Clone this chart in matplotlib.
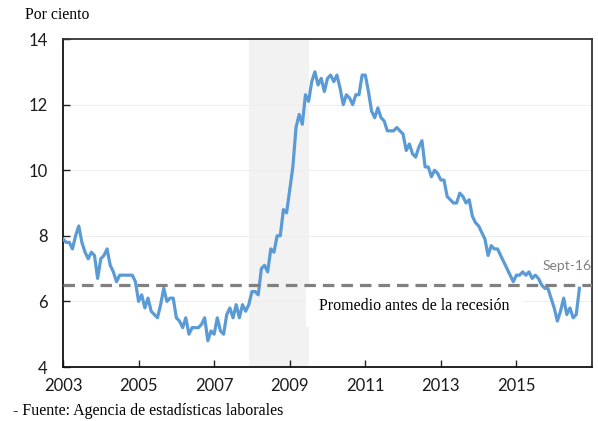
import matplotlib
matplotlib.use("Agg")
import matplotlib.pyplot as plt
import numpy as np

start_year = 2003
rate = [
    7.9, 7.8, 7.8, 7.6, 8.0, 8.3, 7.8, 7.5, 7.3, 7.5, 7.4, 6.7,   # 2003
    7.3, 7.4, 7.6, 7.1, 6.9, 6.6, 6.8, 6.8, 6.8, 6.8, 6.8, 6.6,   # 2004
    6.0, 6.2, 5.8, 6.1, 5.7, 5.6, 5.5, 5.9, 6.4, 6.0, 6.1, 6.1,   # 2005
    5.5, 5.4, 5.2, 5.5, 5.0, 5.2, 5.2, 5.2, 5.3, 5.5, 4.8, 5.1,   # 2006
    5.0, 5.5, 5.1, 5.0, 5.6, 5.8, 5.5, 5.9, 5.5, 5.9, 5.7, 5.9,   # 2007
    6.3, 6.3, 6.2, 7.0, 7.1, 6.9, 7.6, 7.5, 8.0, 8.0, 8.8, 8.7,   # 2008
    9.4, 10.1, 11.3, 11.7, 11.4, 12.3, 12.1, 12.7, 13.0, 12.6, 12.8, 12.4,  # 2009
    12.8, 12.9, 12.7, 12.9, 12.5, 12.0, 12.3, 12.2, 12.0, 12.3, 12.3, 12.9,  # 2010
    12.9, 12.4, 11.8, 11.6, 11.9, 11.6, 11.5, 11.2, 11.2, 11.2, 11.3, 11.2,  # 2011
    11.1, 10.6, 10.8, 10.5, 10.4, 10.7, 10.9, 10.1, 10.1, 9.8, 10.0, 9.9,    # 2012
    9.7, 9.7, 9.2, 9.1, 9.0, 9.0, 9.3, 9.2, 9.0, 9.1, 8.6, 8.4,   # 2013
    8.3, 8.1, 7.9, 7.4, 7.7, 7.6, 7.6, 7.4, 7.2, 7.0, 6.8, 6.6,   # 2014
    6.8, 6.8, 6.9, 6.8, 6.9, 6.7, 6.8, 6.7, 6.5, 6.4, 6.4, 6.1,   # 2015
    5.8, 5.4, 5.7, 6.1, 5.6, 5.8, 5.5, 5.6, 6.4,                  # 2016 (Jan-Sep)
]
pre_recession_avg = 6.5
recession_start = 2007 + 11 / 12
recession_end = 2009.5
x_ticks = [2003, 2005, 2007, 2009, 2011, 2013, 2015]
y_ticks = [4, 6, 8, 10, 12, 14]

dates = start_year + np.arange(len(rate)) / 12.0

fig = plt.figure(figsize=(5.98, 4.21), dpi=100)
ax = fig.add_axes([63 / 598, 54 / 421, (592 - 63) / 598, (367 - 39) / 421])

ax.axvspan(recession_start, recession_end, color="#f2f2f2", zorder=0, lw=0)
for yv in y_ticks[1:-1]:
    ax.axhline(yv, color="#eeeeee", lw=0.8, zorder=0.5)

ax.plot(dates, rate, color="#5b9bd5", lw=2.3, zorder=3, solid_joinstyle="round")
ax.axhline(pre_recession_avg, color="#808080", lw=2.3, ls=(0, (3.6, 2.2)), zorder=4)

ax.text(2009.78, 5.86, "Promedio antes de la recesión", fontsize=11.5,
        family="Liberation Serif", va="center", ha="left", zorder=2,
        bbox=dict(facecolor="white", edgecolor="none", pad=9.5))
ax.text(2016.98, 7.08, "Sept-16", fontsize=10, family="Lato", color="#808080",
        ha="right", va="center", zorder=5)

ax.set_xlim(2003, 2017)
ax.set_ylim(4, 14)
ax.set_xticks(x_ticks)
ax.set_yticks(y_ticks)
ax.tick_params(direction="in", length=5, width=1, color="#222222",
               labelsize=12, labelcolor="#1a1a1a")
ax.tick_params(axis="y", pad=11)
ax.tick_params(axis="x", pad=8)
for lab in ax.get_xticklabels() + ax.get_yticklabels():
    lab.set_family("Lato")

for s in ["left", "bottom"]:
    ax.spines[s].set_color("#111111")
    ax.spines[s].set_linewidth(1.3)
for s in ["top", "right"]:
    ax.spines[s].set_color("#333333")
    ax.spines[s].set_linewidth(1.3)

fig.text(25 / 598, 1 - 15 / 421, "Por ciento", fontsize=11.3,
         family="Liberation Serif", va="center", ha="left")
fig.text(13 / 598, 1 - 411 / 421, "- Fuente: Agencia de estadísticas laborales",
         fontsize=11.5, family="Liberation Serif", va="center", ha="left")

fig.savefig("out.png", dpi=100)
